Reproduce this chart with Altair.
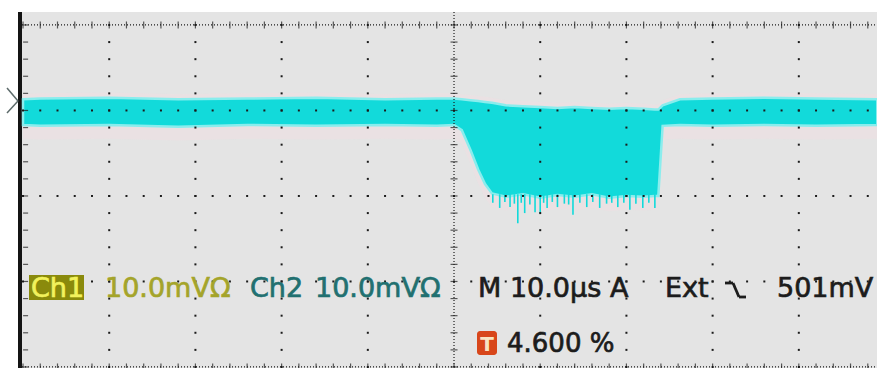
import altair as alt
import pandas as pd

# Scope settings: 10 µs/div horizontally, 10 mV/div vertically.
# The visible screen covers the upper four divisions.

# Trace envelope (noise band) of the channel: time in µs, band edges in mV
trace_t_us = [-50.0, -48, -40, -32, -24, -16, -8, -2, 0, 0.9, 1.9, 2.8, 3.6, 4.4,
              6, 8, 10, 12, 14, 16, 18, 20, 22, 23.3, 23.7, 24.2, 26.2, 30, 36, 42, 49.1]
trace_hi_mv = [31.3, 31.4, 31.5, 31.3, 31.4, 31.5, 31.3, 31.4, 31.4, 31.3, 31.2, 31.1, 31.0, 30.9,
               30.6, 30.5, 30.4, 30.3, 30.4, 30.3, 30.2, 30.3, 30.2, 30.1, 30.1, 30.6, 31.3, 31.4, 31.5, 31.4, 31.3]
trace_lo_mv = [28.3, 28.2, 28.3, 28.1, 28.3, 28.2, 28.3, 28.2, 28.3, 27.7, 25.4, 23.1, 21.4, 20.3,
               19.9, 20.2, 19.8, 20.1, 19.9, 20.2, 19.8, 20.0, 19.9, 20.0, 20.0, 28.2, 28.3, 28.2, 28.3, 28.2, 28.3]

# Downward noise spikes along the floor of the dip
spike_t_us = [4.5, 5.3, 5.9, 6.5, 7.0, 7.4, 7.8, 8.2, 8.8, 9.4, 10.0, 10.4, 10.8, 11.4, 12.0, 12.8,
              13.3, 13.8, 14.6, 15.4, 16.1, 16.9, 17.7, 18.3, 19.0, 19.7, 20.4, 21.1, 21.9, 22.6, 23.3]
spike_tip_mv = [19.2, 18.6, 19.3, 18.7, 19.1, 16.8, 19.2, 18.0, 19.0, 18.1, 18.0, 19.2, 18.6, 19.3,
                18.7, 19.1, 19.0, 17.8, 19.2, 18.7, 19.3, 18.6, 19.1, 19.2, 18.7, 19.2, 18.4, 19.1, 18.6, 19.2, 18.6]
spike_base_mv = 20.2

# Graticule divisions
major_t_us = [-40, -30, -20, -10, 10, 20, 30, 40]
major_v_mv = [10, 20, 30]
minor_t_us = [t / 10 for t in range(-500, 500, 20)]
minor_v_mv = [v / 10 for v in range(0, 402, 20)]

X_DOMAIN = [-52.67, 49.07]
Y_DOMAIN = [-0.12, 42.92]
xs = alt.Scale(domain=X_DOMAIN, nice=False, zero=False)
ys = alt.Scale(domain=Y_DOMAIN, nice=False, zero=False)


def X(field):
    return alt.X(field, type="quantitative", scale=xs, axis=None)


def Y(field):
    return alt.Y(field, type="quantitative", scale=ys, axis=None)


one = pd.DataFrame({"k": [0]})


def box(x1, x2, y1, y2, color, **kw):
    return alt.Chart(one).mark_rect(color=color, **kw).encode(
        x=alt.value(x1), x2=alt.value(x2), y=alt.value(y1), y2=alt.value(y2))


def seg(x1, y1, x2, y2, color, width):
    return alt.Chart(one).mark_rule(color=color, strokeWidth=width).encode(
        x=alt.value(x1), y=alt.value(y1), x2=alt.value(x2), y2=alt.value(y2))


def label(text, x, y, color, size=27, weight="normal", align="left", thicken=0.7):
    return alt.Chart(one).mark_text(
        text=text, font="DejaVu Sans", fontSize=size, fontWeight=weight,
        color=color, stroke=color, strokeWidth=thicken,
        align=align, baseline="alphabetic",
    ).encode(x=alt.value(x), y=alt.value(y))


trace = pd.DataFrame({"t": trace_t_us, "hi": trace_hi_mv, "lo": trace_lo_mv})
spikes = pd.DataFrame({"t": spike_t_us, "tip": spike_tip_mv, "base": spike_base_mv})

dots = pd.DataFrame(
    [{"t": t, "v": v} for t in major_t_us for v in minor_v_mv]
    + [{"t": t, "v": v} for v in major_v_mv for t in minor_t_us]
)
edge_lines = pd.DataFrame({"v": [0.0, 40.0]})
edge_ticks = pd.DataFrame([{"t": t, "v": v} for v in [0.0, 40.0] for t in minor_t_us])
center_ticks = pd.DataFrame({"v": minor_v_mv})
border_ticks = pd.DataFrame({"v": minor_v_mv})

GRID = "#1a1a1a"
CYAN = "#12dada"

screen = box(22, 877, 12, 368, "#e4e4e4")
bar = box(18, 22, 12, 368, "#141414")

haze = alt.Chart(trace).mark_area(color="#eddfe3", opacity=0.7).encode(
    x=X("t"), y=alt.Y("hi_pad:Q", scale=ys, axis=None), y2="lo_pad:Q"
).transform_calculate(hi_pad="datum.hi + 0.6", lo_pad="datum.lo - 1.6")

band = alt.Chart(trace).mark_area(
    color=CYAN, stroke="#8aeded", strokeWidth=2.5, interpolate="linear"
).encode(x=X("t"), y=Y("hi"), y2="lo")

spike_marks = alt.Chart(spikes).mark_rule(color=CYAN, strokeWidth=1.6).encode(
    x=X("t"), y=Y("tip"), y2="base"
)

grid_dots = alt.Chart(dots).mark_square(color=GRID, size=4, opacity=1).encode(
    x=X("t"), y=Y("v")
)

edge_rules = alt.Chart(edge_lines).mark_rule(
    color=GRID, strokeWidth=1.2, strokeDash=[1, 2]
).encode(x=alt.value(22), x2=alt.value(877), y=Y("v"))

edge_tick_marks = alt.Chart(edge_ticks).mark_tick(
    color=GRID, orient="vertical", size=7, thickness=1.2
).encode(x=X("t"), y=Y("v"))

center_rule = alt.Chart(one).mark_rule(
    color=GRID, strokeWidth=1.2, strokeDash=[1, 2]
).encode(x=alt.X("c:Q", scale=xs, axis=None), y=alt.value(12), y2=alt.value(368)
).transform_calculate(c="0")

center_tick_marks = alt.Chart(center_ticks).mark_tick(
    color=GRID, orient="horizontal", size=7, thickness=1.2
).encode(x=alt.X("c:Q", scale=xs, axis=None), y=Y("v")).transform_calculate(c="0")

border_tick_marks = alt.Chart(border_ticks).mark_tick(
    color=GRID, orient="horizontal", size=5, thickness=1.2
).encode(x=alt.X("c:Q", scale=xs, axis=None), y=Y("v")).transform_calculate(c="-49.7")

# channel reference marker
marker = seg(7, 88, 18, 101, "#5d6b6b", 1.5) + seg(18, 101, 7, 113, "#5d6b6b", 1.5)

# readout line
ch1_box = box(29, 84, 275, 300, "#8a8a0c")
readout = (
    label("Ch1", 31, 297, "#f2f25c")
    + label("10.0mVΩ", 105, 297, "#a4a42a")
    + label("Ch2", 250, 297, "#217070")
    + label("10.0mVΩ", 315, 297, "#217070")
    + label("M 10.0µs", 478, 297, "#1c1c1c")
    + label("A", 610, 297, "#1c1c1c")
    + label("Ext", 665, 297, "#1c1c1c")
    + label("501mV", 777, 297, "#1c1c1c")
)
# falling-edge trigger symbol
slope = (seg(725, 283, 733, 283, "#1c1c1c", 2.8)
         + seg(733, 283, 739, 297, "#1c1c1c", 2.8)
         + seg(739, 297, 746, 297, "#1c1c1c", 2.8))

t_icon = box(477, 497, 331, 355, "#d8461a", cornerRadius=3)
t_text = label("T", 487, 351, "#f8e4c2", size=20, weight="bold", align="center", thicken=0)
trig_pos = label("4.600 %", 507, 352, "#1c1c1c", size=26)

chart = alt.layer(
    screen, bar, haze, band, spike_marks,
    grid_dots, edge_rules, edge_tick_marks, center_rule, center_tick_marks, border_tick_marks,
    marker, ch1_box, readout, slope, t_icon, t_text, trig_pos,
).properties(
    width=877, height=368, background="white", padding=0,
    autosize=alt.AutoSizeParams(type="none"),
).configure_view(stroke=None)

chart.save("out.html", embed_options={"renderer": "svg", "actions": False})
